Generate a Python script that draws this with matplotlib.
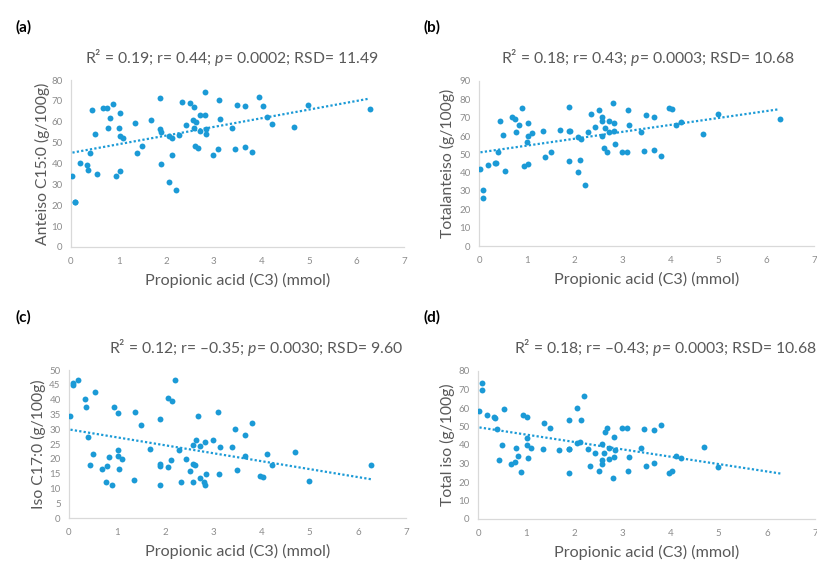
import numpy as np
import matplotlib
matplotlib.use("Agg")
import matplotlib.pyplot as plt

plt.rcParams['font.family'] = ['Lato', 'DejaVu Sans']
plt.rcParams['mathtext.fontset'] = 'custom'
plt.rcParams['mathtext.rm'] = 'Lato'
plt.rcParams['mathtext.it'] = 'Lato:italic'

# propionic acid (C3), mmol - shared by all four panels
c3 = [0.03, 0.09, 0.09, 0.19, 0.34, 0.35, 0.39, 0.44, 0.50, 0.55,
      0.68, 0.76, 0.78, 0.83, 0.89, 0.94, 1.01, 1.02, 1.03, 1.02,
      1.10, 1.34, 1.38, 1.50, 1.69, 1.88, 1.88, 1.90, 1.89, 2.06,
      2.06, 2.13, 2.12, 2.21, 2.28, 2.33, 2.42, 2.51, 2.57, 2.58,
      2.58, 2.63, 2.61, 2.67, 2.72, 2.72, 2.81, 2.82, 2.83, 2.84,
      2.99, 3.10, 3.12, 3.14, 3.38, 3.45, 3.49, 3.66, 3.65, 3.80,
      3.96, 4.04, 4.12, 4.22, 4.69, 4.99, 6.28]

anteiso_c15 = [34.2, 21.7, 21.5, 40.4, 39.1, 37.1, 44.8, 65.6, 53.9, 34.9,
               66.6, 66.7, 56.9, 62.0, 68.5, 34.2, 56.9, 36.4, 64.0, 53.2,
               52.3, 59.4, 44.8, 48.3, 61.0, 71.3, 56.6, 55.2, 39.8, 31.2,
               53.2, 52.3, 44.2, 27.1, 53.6, 69.7, 58.5, 69.1, 61.0, 67.0,
               57.2, 60.1, 48.3, 47.5, 55.5, 63.1, 74.3, 63.4, 56.4, 53.9,
               44.2, 46.9, 70.5, 61.2, 57.2, 46.8, 68.1, 67.5, 48.0, 45.5,
               71.8, 67.5, 62.4, 59.0, 57.4, 68.1, 66.2]

total_anteiso = [42.1, 30.5, 26.3, 44.3, 45.0, 45.5, 51.5, 68.4, 60.3, 40.7,
                 70.6, 69.5, 62.1, 66.2, 75.3, 43.7, 56.6, 44.6, 67.0, 60.1,
                 61.7, 62.6, 48.5, 51.2, 63.0, 75.6, 62.6, 62.6, 46.6, 40.3,
                 59.5, 58.6, 47.0, 33.4, 62.3, 71.9, 64.8, 74.1, 68.4, 70.1,
                 59.9, 64.1, 53.2, 51.4, 62.1, 68.1, 77.8, 67.0, 62.6, 55.9,
                 51.0, 51.4, 74.4, 66.2, 62.1, 51.7, 71.3, 70.2, 52.4, 49.2,
                 75.1, 74.6, 65.9, 67.5, 61.3, 71.9, 69.1]

iso_c17 = [34.4, 45.5, 45.0, 46.7, 40.2, 37.4, 27.5, 18.0, 21.7, 42.6,
           16.4, 12.0, 17.5, 20.7, 11.1, 37.6, 21.0, 35.5, 16.4, 23.0,
           20.0, 12.8, 35.7, 31.4, 23.3, 17.4, 33.3, 18.3, 11.3, 40.4,
           17.3, 39.5, 19.7, 46.7, 22.9, 12.1, 20.0, 15.8, 24.7, 12.1,
           18.4, 26.5, 17.9, 34.3, 24.2, 13.5, 12.3, 11.2, 25.7, 15.0,
           26.4, 35.9, 14.8, 23.9, 23.9, 29.9, 16.1, 20.8, 27.9, 32.1,
           14.3, 13.8, 21.7, 17.8, 22.2, 12.4, 18.0]

total_iso = [58.2, 73.7, 69.5, 56.0, 55.0, 54.5, 48.5, 32.1, 39.8, 59.5,
             29.5, 31.0, 38.4, 34.2, 25.2, 56.4, 40.2, 55.1, 33.0, 43.8,
             38.6, 37.7, 51.9, 49.0, 37.3, 37.7, 53.7, 37.7, 24.9, 59.8,
             40.9, 53.3, 41.4, 66.7, 37.7, 28.5, 35.7, 25.9, 40.5, 31.9,
             29.7, 47.2, 35.9, 49.0, 38.2, 32.3, 22.3, 33.3, 44.1, 37.3,
             49.2, 49.0, 26.1, 33.7, 38.4, 48.5, 28.8, 30.3, 48.1, 50.6,
             24.9, 25.9, 34.2, 33.2, 38.7, 28.1, np.nan]

panel_tags = ["(a)", "(b)", "(c)", "(d)"]
ylabels = ["Anteiso C15:0 (g/100g)", "Totalanteiso (g/100g)",
           "Iso C17:0 (g/100g)", "Total iso (g/100g)"]
stats = ["R\u00b2 = 0.19; r= 0.44; $p$= 0.0002; RSD= 11.49",
         "R\u00b2 = 0.18; r= 0.43; $p$= 0.0003; RSD= 10.68",
         "R\u00b2 = 0.12; r= \u20130.35; $p$= 0.0030; RSD= 9.60",
         "R\u00b2 = 0.18; r= \u20130.43; $p$= 0.0003; RSD= 10.68"]
ymax = [80, 90, 50, 80]
ystep = [10, 10, 5, 10]
series = [anteiso_c15, total_anteiso, iso_c17, total_iso]

W, H = 817, 561
# axes boxes in pixels: left, top, right, bottom
boxes = [(71, 80, 404, 247), (479, 81, 814, 246),
         (69, 370, 406, 518), (478, 371, 815, 519)]
tag_pos = [(15, 27), (423, 27), (15, 317), (423, 317)]
title_pos = [(232, 57), (648, 58), (256, 348), (665, 348)]
ylab_x = [42, 447, 38, 447]

blue = "#1b9ad6"
grey = "#595959"

fig = plt.figure(figsize=(W / 100, H / 100), dpi=100)
x = np.array(c3)

for i in range(4):
    l, t, r, b = boxes[i]
    ax = fig.add_axes([l / W, 1 - b / H, (r - l) / W, (b - t) / H])
    y = np.array(series[i], dtype=float)
    ax.scatter(x, y, s=18, color=blue, zorder=3, linewidths=0)
    ok = ~np.isnan(y)
    k, c = np.polyfit(x[ok], y[ok], 1)
    xs = np.array([x.min(), x.max()])
    ax.plot(xs, k * xs + c, linestyle=(0, (1, 1)), color=blue, lw=1.6)

    ax.set_xlim(0, 7)
    ax.set_ylim(0, ymax[i])
    ax.set_xticks(range(0, 8))
    ax.set_yticks(np.arange(0, ymax[i] + 1, ystep[i]))
    ax.tick_params(length=0, labelsize=7, labelcolor="#8c8c8c")
    ax.tick_params(axis="x", pad=7)
    ax.tick_params(axis="y", pad=6)
    for s in ["top", "right"]:
        ax.spines[s].set_visible(False)
    for s in ["left", "bottom"]:
        ax.spines[s].set_color("#d9d9d9")
        ax.spines[s].set_linewidth(0.9)

    ax.set_xlabel("Propionic acid (C3) (mmol)", fontsize=11.6, color=grey, labelpad=5)
    fig.text(ylab_x[i] / W, 1 - ((t + b) / 2) / H, ylabels[i], rotation=90,
             fontsize=11.3, color=grey, ha="center", va="center")
    fig.text(title_pos[i][0] / W, 1 - title_pos[i][1] / H, stats[i],
             fontsize=11.3, color=grey, ha="center", va="center")
    fig.text(tag_pos[i][0] / W, 1 - tag_pos[i][1] / H, panel_tags[i],
             fontsize=11, fontweight="bold", color="black", ha="left", va="center")

fig.savefig("out.png", dpi=100)
